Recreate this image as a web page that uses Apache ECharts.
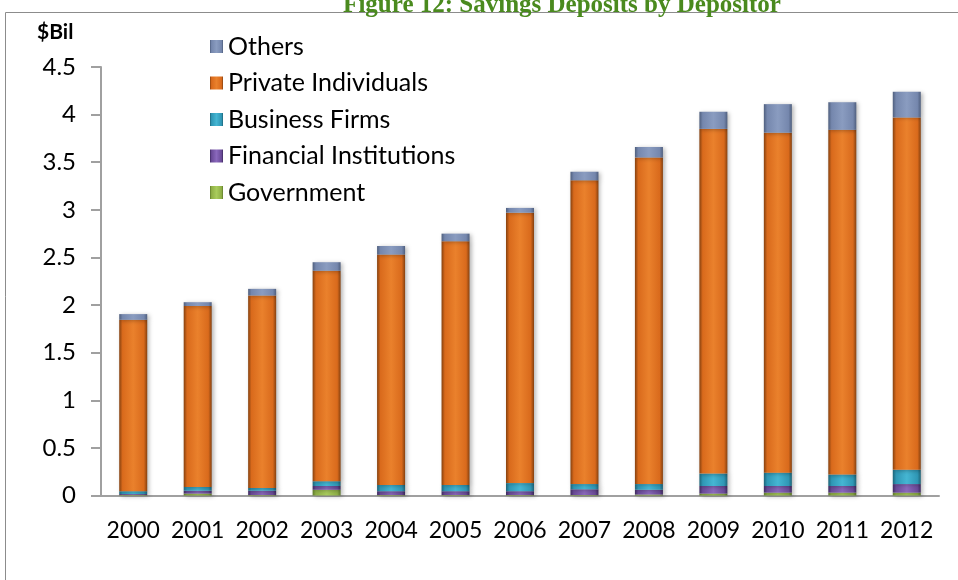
<!DOCTYPE html>
<html>
<head>
<meta charset="utf-8">
<script src="https://cdn.jsdelivr.net/npm/echarts@6/dist/echarts.min.js"></script>
<style>
  html, body { margin: 0; padding: 0; background: #fff; }
  #chart { width: 958px; height: 580px; }
</style>
</head>
<body>
<div id="chart"></div>
<script>
// Savings deposits by depositor, $ billions
const years = ['2000','2001','2002','2003','2004','2005','2006','2007','2008','2009','2010','2011','2012'];
const government = [0.005, 0.02, 0.005, 0.06, 0.005, 0.005, 0.005, 0.005, 0.01, 0.02, 0.03, 0.03, 0.03];
const financial  = [0.01, 0.03, 0.045, 0.04, 0.04, 0.04, 0.04, 0.06, 0.05, 0.08, 0.07, 0.07, 0.09];
const business   = [0.03, 0.04, 0.03, 0.05, 0.065, 0.065, 0.085, 0.055, 0.06, 0.13, 0.14, 0.12, 0.15];
const privateInd = [1.80, 1.90, 2.02, 2.21, 2.42, 2.56, 2.84, 3.19, 3.43, 3.62, 3.57, 3.62, 3.70];
const others     = [0.06, 0.04, 0.07, 0.09, 0.09, 0.08, 0.05, 0.09, 0.11, 0.18, 0.30, 0.29, 0.27];
const yTicks = ['0','0.5','1','1.5','2','2.5','3','3.5','4','4.5'];

const FONT = 'Lato, "Open Sans", sans-serif';

// Bevelled bar look: dark edges, bright middle
function bevel(edge, mid, light) {
  return new echarts.graphic.LinearGradient(0, 0, 1, 0, [
    { offset: 0, color: edge },
    { offset: 0.12, color: mid },
    { offset: 0.5, color: light },
    { offset: 0.88, color: mid },
    { offset: 1, color: edge }
  ]);
}

const palette = {
  'Government':            ['#5f7a2c', '#8fb046', '#a9cc5c'],
  'Financial Institutions':['#3f2a60', '#6a4a98', '#8a68bc'],
  'Business Firms':        ['#1d6478', '#2f97b5', '#45b6d3'],
  'Private Individuals':   ['#86410f', '#d96a1c', '#ea812c'],
  'Others':                ['#4f5f7e', '#7587ad', '#8a9cc0']
};

function makeSeries(name, data) {
  const c = palette[name];
  return {
    name: name,
    type: 'bar',
    stack: 'total',
    barWidth: 28,
    data: data,
    itemStyle: {
      color: bevel(c[0], c[1], c[2]),
      shadowBlur: 4,
      shadowColor: 'rgba(0,0,0,0.28)',
      shadowOffsetX: 2,
      shadowOffsetY: 1
    },
    emphasis: { disabled: true }
  };
}

function legendIcon(name) {
  return { name: name, itemStyle: { color: bevel(palette[name][0], palette[name][1], palette[name][2]) } };
}

const chart = echarts.init(document.getElementById('chart'), null, { renderer: 'canvas' });

chart.setOption({
  animation: false,
  backgroundColor: '#ffffff',
  title: {
    text: 'Figure 12: Savings Deposits by Depositor',
    left: 557,
    textAlign: 'center',
    top: -12,
    textStyle: {
      fontFamily: '"Liberation Serif", "DejaVu Serif", serif',
      fontWeight: 'bold',
      fontSize: 25,
      color: '#4a8a1e'
    }
  },
  graphic: [
    {
      type: 'rect',
      shape: { x: 5.5, y: 12.5, width: 980, height: 600 },
      style: { fill: 'none', stroke: '#8c8c8c', lineWidth: 1 },
      silent: true,
      z: -1
    },
    {
      type: 'text',
      left: 37,
      top: 22,
      style: { text: '$Bil', font: 'bold 21px ' + FONT, fill: '#000' }
    }
  ],
  legend: {
    orient: 'vertical',
    left: 205,
    top: 29,
    itemGap: 11.5,
    itemWidth: 13,
    itemHeight: 13,
    icon: 'rect',
    textStyle: { fontFamily: FONT, fontSize: 25, lineHeight: 25, color: '#000', padding: [0, 0, 0, 0] },
    data: ['Others', 'Private Individuals', 'Business Firms', 'Financial Institutions', 'Government'].map(legendIcon)
  },
  grid: { left: 101, right: 19, top: 67, bottom: 84.5 },
  xAxis: {
    type: 'category',
    data: years,
    axisLine: { lineStyle: { color: '#a0a0a0', width: 2 } },
    axisTick: { length: 9, lineStyle: { color: '#a0a0a0', width: 2 } },
    axisLabel: { fontFamily: FONT, fontSize: 23, color: '#000', margin: 24, interval: 0, hideOverlap: false }
  },
  yAxis: {
    type: 'value',
    min: 0,
    max: 4.5,
    interval: 0.5,
    axisLine: { show: true, lineStyle: { color: '#a0a0a0', width: 2 } },
    axisTick: { show: true, length: 10, lineStyle: { color: '#a0a0a0', width: 2 } },
    splitLine: { show: false },
    axisLabel: {
      fontFamily: FONT, fontSize: 24, color: '#000', margin: 25,
      formatter: function (v) { return yTicks[Math.round(v / 0.5)]; }
    }
  },
  series: [
    makeSeries('Government', government),
    makeSeries('Financial Institutions', financial),
    makeSeries('Business Firms', business),
    makeSeries('Private Individuals', privateInd),
    makeSeries('Others', others)
  ]
});
</script>
</body>
</html>
